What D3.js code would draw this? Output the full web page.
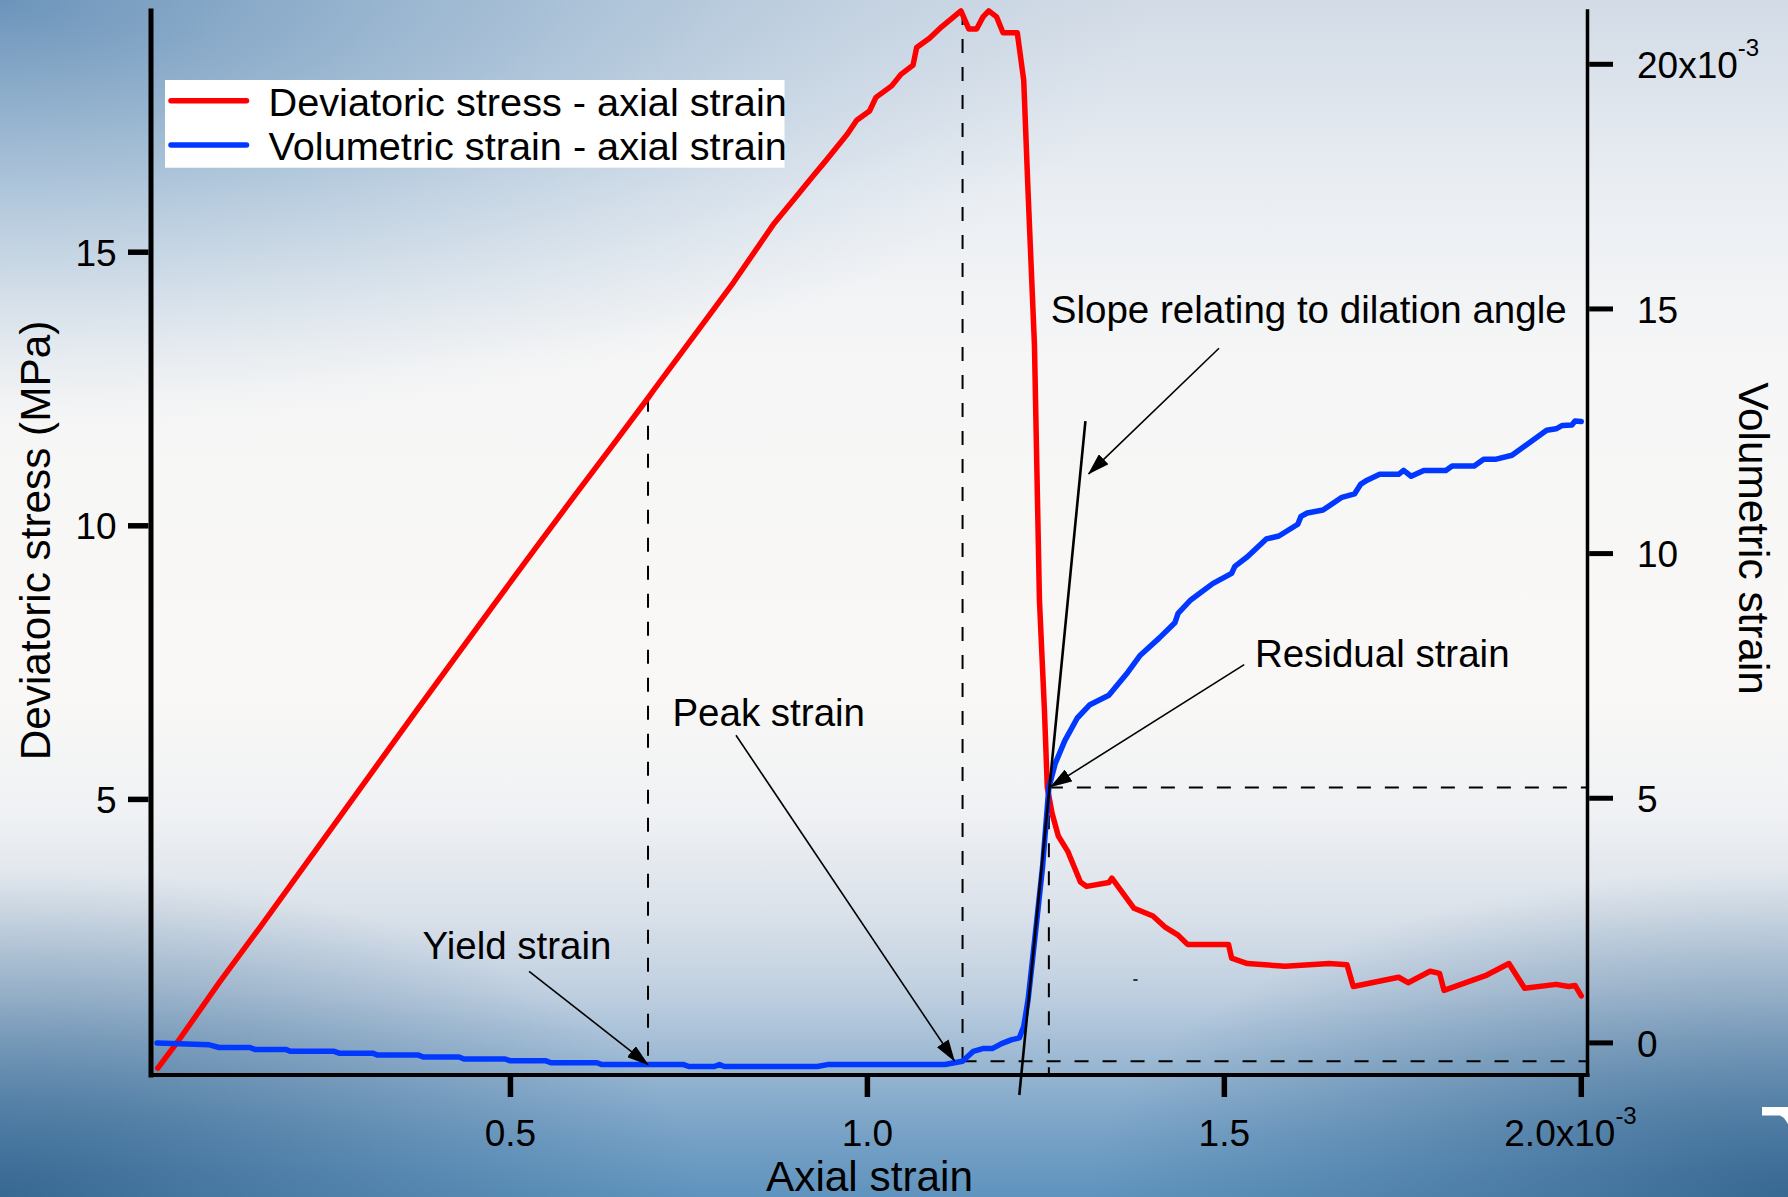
<!DOCTYPE html>
<html>
<head>
<meta charset="utf-8">
<script src="https://cdn.jsdelivr.net/npm/d3@7"></script>
<style>
  html, body { margin: 0; padding: 0; background: #f8f8f6; }
  svg { display: block; font-family: Arial, "Liberation Sans", Helvetica, sans-serif; }
</style>
</head>
<body>
<svg id="chart" width="1788" height="1197"></svg>
<script>
// ---- deviatoric stress vs axial strain (strain in 10^-3, stress in MPa) ----
const redStrain = [0.006,0.0371,0.0925,0.1479,0.2033,0.2587,0.314,0.3694,0.4249,0.4802,0.5357,0.591,0.6465,0.693,0.7018,0.7571,0.8126,0.8679,0.9056,0.923,0.941,0.959,0.972,0.985,1.003,1.012,1.034,1.047,1.064,1.069,1.087,1.104,1.131,1.142,1.153,1.162,1.170,1.181,1.190,1.210,1.219,1.225,1.234,1.241,1.248,1.252,1.2586,1.2674,1.2807,1.2896,1.2984,1.3072,1.3382,1.3425,1.3735,1.400,1.4176,1.4352,1.4484,1.5058,1.5102,1.5323,1.5852,1.647,1.6718,1.6806,1.7441,1.7574,1.7882,1.8015,1.8077,1.8677,1.8986,1.9206,1.9647,1.9824,1.9912,2.000];
const redStress = [0.09,0.63,1.66,2.64,3.64,4.64,5.64,6.64,7.63,8.62,9.60,10.57,11.53,12.34,12.50,13.47,14.45,15.50,16.10,16.38,16.66,16.95,17.16,17.41,17.58,17.83,18.04,18.25,18.42,18.74,18.91,19.12,19.41,19.08,19.08,19.30,19.41,19.30,19.01,19.01,18.14,16.12,13.31,8.64,6.63,5.22,4.75,4.33,4.05,3.77,3.49,3.41,3.48,3.56,3.01,2.87,2.66,2.52,2.35,2.35,2.10,2.00,1.95,2.00,1.98,1.58,1.75,1.65,1.86,1.82,1.51,1.79,2.00,1.55,1.62,1.58,1.60,1.41];

// ---- volumetric strain vs axial strain (both in 10^-3) ----
const blueStrain = [0.005,0.078,0.092,0.135,0.142,0.185,0.192,0.253,0.260,0.307,0.314,0.371,0.378,0.428,0.435,0.4925,0.4997,0.5497,0.5568,0.6212,0.6282,0.7427,0.7498,0.7855,0.7927,0.7998,0.9056,0.930,0.944,1.1086,1.1333,1.1484,1.1615,1.1748,1.1880,1.2013,1.2128,1.219,1.2251,1.2339,1.2454,1.2542,1.263,1.2764,1.294,1.3117,1.3382,1.3646,1.3823,1.4087,1.4307,1.4352,1.4529,1.4837,1.5102,1.5147,1.5323,1.5588,1.5764,1.6029,1.6074,1.6161,1.6382,1.6647,1.6823,1.6912,1.70,1.7176,1.7441,1.7511,1.7617,1.7794,1.8103,1.8191,1.85,1.8633,1.8809,1.9029,1.9515,1.9647,1.9735,1.9868,1.9912,2.000];
const blueVol = [0.0,-0.039,-0.094,-0.094,-0.133,-0.133,-0.172,-0.172,-0.210,-0.210,-0.249,-0.249,-0.288,-0.288,-0.329,-0.329,-0.366,-0.366,-0.405,-0.405,-0.443,-0.443,-0.482,-0.482,-0.443,-0.482,-0.482,-0.482,-0.443,-0.443,-0.376,-0.172,-0.116,-0.116,-0.014,0.063,0.102,0.335,0.881,2.048,3.603,5.22,5.706,6.172,6.64,6.912,7.106,7.572,7.924,8.273,8.586,8.78,9.052,9.387,9.597,9.738,9.935,10.30,10.36,10.60,10.76,10.83,10.89,11.15,11.22,11.42,11.50,11.62,11.62,11.70,11.58,11.70,11.70,11.79,11.79,11.93,11.93,12.01,12.52,12.55,12.62,12.63,12.71,12.70];

// ---- axes ----
const xTicks = [0.5, 1.0, 1.5, 2.0];
const xTickLabels = ["0.5", "1.0", "1.5", "2.0x10"];
const leftTicks = [5, 10, 15];
const leftTickLabels = ["5", "10", "15"];
const rightTicks = [0, 5, 10, 15, 20];
const rightTickLabels = ["0", "5", "10", "15", "20x10"];
const exponentLabel = "-3";
const seriesNames = ["Deviatoric stress - axial strain", "Volumetric strain - axial strain"];

// ---- characteristic points (axial strain, stress) ----
const yieldStrain = 0.6927, peakStrain = 1.1333, residualStrain = 1.2542;
const yieldStress = 12.34, peakStress = 19.41, residualStress = 5.22;
const yieldVol = -0.443, peakVol = -0.376, residualVol = 5.22;
// tangent to the dilatant part of the volumetric curve (strain, stress)
const slopeLine = [[1.2128, -0.402], [1.3054, 11.915]];
// annotation labels with their arrows (strain, stress)
const noteText = ["Yield strain", "Peak strain", "Residual strain", "Slope relating to dilation angle"];
const noteAt = [[0.3767, 2.089], [0.7269, 6.347], [1.5428, 7.427], [1.2569, 13.699]];
const arrowFrom = [[0.5261, 1.859], [0.8159, 6.173], [1.5278, 7.463], [1.4925, 13.244]];
const arrowTo = [[0.6927, 0.1535], [1.1219, 0.223], [1.2569, 5.234], [1.3099, 10.95]];
const strayMark = [[1.3725, 1.70], [1.3785, 1.70]];

const W = 1788, H = 1197;
const svg = d3.select("#chart");
const defs = svg.append("defs");

// ---------- background ----------
function addStops(g, stops) {
  stops.forEach(s => g.append("stop").attr("offset", s[0]).attr("stop-color", s[1]).attr("stop-opacity", s[2] === undefined ? 1 : s[2]));
}
addStops(defs.append("linearGradient").attr("id", "bgV").attr("x1", 0).attr("y1", 0).attr("x2", 0).attr("y2", 1),
  [[0, "#d2dbe6"], [0.16, "#eaeef3"], [0.3, "#f6f6f6"], [0.58, "#f9f8f6"], [0.68, "#eff1f4"], [0.76, "#dbe2ea"],
   [0.83, "#bfcfe0"], [0.9, "#93b3d0"], [0.95, "#76a1c6"], [1, "#5f93bd"]]);
addStops(defs.append("radialGradient").attr("id", "bgTL").attr("gradientUnits", "userSpaceOnUse")
  .attr("cx", 0).attr("cy", 0).attr("r", 1).attr("gradientTransform", "translate(0,0) scale(1150,430)"),
  [[0, "#6690b8", 0.95], [0.45, "#80a6c7", 0.55], [1, "#a6c0d8", 0]]);
addStops(defs.append("radialGradient").attr("id", "bgBL").attr("gradientUnits", "userSpaceOnUse")
  .attr("cx", 0).attr("cy", 0).attr("r", 1).attr("gradientTransform", `translate(0,${H}) scale(700,330)`),
  [[0, "#2e5e88", 0.8], [1, "#3b6b94", 0]]);
addStops(defs.append("radialGradient").attr("id", "bgBR").attr("gradientUnits", "userSpaceOnUse")
  .attr("cx", 0).attr("cy", 0).attr("r", 1).attr("gradientTransform", `translate(${W},${H}) scale(700,330)`),
  [[0, "#2e5e88", 0.8], [1, "#3b6b94", 0]]);
["bgV", "bgTL", "bgBL", "bgBR"].forEach(id =>
  svg.append("rect").attr("width", W).attr("height", H).attr("fill", `url(#${id})`));

// small white shape at the lower right edge
svg.append("path").attr("d", "M1762,1107 L1788,1107 L1788,1124 L1784,1118 L1780,1115.5 L1762,1115.5 Z").attr("fill", "#ffffff");

// ---------- scales ----------
const x = d3.scaleLinear().domain([-0.0035, 2.0087]).range([151, 1587.5]);
const yL = d3.scaleLinear().domain([-0.0365, 19.408]).range([1075, 11]);
const yR = d3.scaleLinear().domain([-0.656, 21.089]).range([1075, 11]);
const P = p => [x(p[0]), yL(p[1])];

// arrowhead
defs.append("marker").attr("id", "arrow").attr("markerUnits", "userSpaceOnUse")
  .attr("markerWidth", 22).attr("markerHeight", 14).attr("refX", 21).attr("refY", 7).attr("orient", "auto")
  .append("path").attr("d", "M0,0 L22,7 L0,14 Z").attr("fill", "#000");

// ---------- dashed guide lines ----------
const guides = svg.append("g").attr("stroke", "#000").attr("stroke-width", 2).attr("stroke-dasharray", "14,14").attr("fill", "none");
const dashed = (x1, y1, x2, y2) => guides.append("line").attr("x1", x1).attr("y1", y1).attr("x2", x2).attr("y2", y2);
dashed(x(yieldStrain), yL(yieldStress), x(yieldStrain), yR(yieldVol));
dashed(x(peakStrain), yL(peakStress), x(peakStrain), yL(0));
dashed(x(residualStrain), yL(residualStress), x(residualStrain), yL(0));
dashed(x(residualStrain), yR(residualVol), x.range()[1], yR(residualVol));
dashed(x(peakStrain), yR(peakVol), x.range()[1], yR(peakVol));

// ---------- curves ----------
const redData = redStrain.map((s, i) => [s, redStress[i]]);
const blueData = blueStrain.map((s, i) => [s, blueVol[i]]);
svg.append("path").datum(redData)
  .attr("d", d3.line().x(d => x(d[0])).y(d => yL(d[1])))
  .attr("fill", "none").attr("stroke", "#ff0000").attr("stroke-width", 5.5)
  .attr("stroke-linejoin", "round").attr("stroke-linecap", "round");
svg.append("path").datum(blueData)
  .attr("d", d3.line().x(d => x(d[0])).y(d => yR(d[1])))
  .attr("fill", "none").attr("stroke", "#0038ff").attr("stroke-width", 5.5)
  .attr("stroke-linejoin", "round").attr("stroke-linecap", "round");

// tangent line
svg.append("line")
  .attr("x1", P(slopeLine[0])[0]).attr("y1", P(slopeLine[0])[1])
  .attr("x2", P(slopeLine[1])[0]).attr("y2", P(slopeLine[1])[1])
  .attr("stroke", "#000").attr("stroke-width", 2.6);

svg.append("line")
  .attr("x1", P(strayMark[0])[0]).attr("y1", P(strayMark[0])[1])
  .attr("x2", P(strayMark[1])[0]).attr("y2", P(strayMark[1])[1])
  .attr("stroke", "#000").attr("stroke-width", 1.5);

// ---------- annotations ----------
arrowFrom.forEach((f, i) => {
  const a = P(f), b = P(arrowTo[i]);
  svg.append("line").attr("x1", a[0]).attr("y1", a[1]).attr("x2", b[0]).attr("y2", b[1])
    .attr("stroke", "#000").attr("stroke-width", 1.6).attr("marker-end", "url(#arrow)");
});
noteText.forEach((t, i) => {
  const p = P(noteAt[i]);
  svg.append("text").attr("x", p[0]).attr("y", p[1]).attr("font-size", 38.5).attr("fill", "#000").text(t);
});

// ---------- axes ----------
const axes = svg.append("g").attr("stroke", "#000").attr("stroke-linecap", "square");
const [x0, x1] = x.range();
const [yb, yt] = yL.range();
axes.append("line").attr("x1", x0).attr("y1", yb).attr("x2", x1).attr("y2", yb).attr("stroke-width", 4);
axes.append("line").attr("x1", x0).attr("y1", yt).attr("x2", x0).attr("y2", yb).attr("stroke-width", 5);
axes.append("line").attr("x1", x1).attr("y1", yt).attr("x2", x1).attr("y2", yb).attr("stroke-width", 3.5);

const tickG = svg.append("g").attr("stroke", "#000").attr("stroke-linecap", "butt");
const labelG = svg.append("g").attr("fill", "#000").attr("font-size", 37);

// bottom axis
xTicks.forEach((v, i) => {
  tickG.append("line").attr("x1", x(v)).attr("x2", x(v)).attr("y1", yb + 2).attr("y2", yb + 22).attr("stroke-width", 5.5);
  const last = i === xTicks.length - 1;
  const t = labelG.append("text").attr("y", yb + 71.3);
  if (last) {
    t.attr("x", x(v) - 77).attr("text-anchor", "start");
    t.append("tspan").text(xTickLabels[i]);
    t.append("tspan").attr("dy", -22).attr("font-size", 24).text(exponentLabel);
  } else {
    t.attr("x", x(v)).attr("text-anchor", "middle").text(xTickLabels[i]);
  }
});
// left axis
leftTicks.forEach((v, i) => {
  tickG.append("line").attr("x1", x0 - 2.5).attr("x2", x0 - 23).attr("y1", yL(v)).attr("y2", yL(v)).attr("stroke-width", 5.5);
  labelG.append("text").attr("x", 116.7).attr("y", yL(v) + 13.3).attr("text-anchor", "end").text(leftTickLabels[i]);
});
// right axis
rightTicks.forEach((v, i) => {
  tickG.append("line").attr("x1", x1 + 1.7).attr("x2", x1 + 25.5).attr("y1", yR(v)).attr("y2", yR(v)).attr("stroke-width", 5);
  const t = labelG.append("text").attr("x", x1 + 49.5).attr("y", yR(v) + 13.8).attr("text-anchor", "start");
  t.append("tspan").text(rightTickLabels[i]);
  if (i === rightTicks.length - 1) t.append("tspan").attr("dy", -22).attr("font-size", 24).text(exponentLabel);
});

// axis titles
svg.append("text").attr("x", 869.5).attr("y", 1191.3).attr("text-anchor", "middle").attr("font-size", 42.3).text("Axial strain");
svg.append("text").attr("transform", "translate(49.5,540.5) rotate(-90)").attr("text-anchor", "middle").attr("font-size", 42.3).text("Deviatoric stress (MPa)");
svg.append("text").attr("transform", "translate(1738.5,538.5) rotate(90)").attr("text-anchor", "middle").attr("font-size", 42.3).text("Volumetric strain");

// ---------- legend ----------
const legend = svg.append("g");
legend.append("rect").attr("x", 165).attr("y", 80).attr("width", 619.5).attr("height", 87.7).attr("fill", "#ffffff");
const legendColors = ["#ff0000", "#0038ff"];
seriesNames.forEach((name, i) => {
  const ly = 100.7 + i * 44.3;
  legend.append("line").attr("x1", 171).attr("x2", 246.5).attr("y1", ly).attr("y2", ly)
    .attr("stroke", legendColors[i]).attr("stroke-width", 5.5).attr("stroke-linecap", "round");
  legend.append("text").attr("x", 268.5).attr("y", ly + 15).attr("font-size", 39.7).attr("fill", "#000").text(name);
});
</script>
</body>
</html>
